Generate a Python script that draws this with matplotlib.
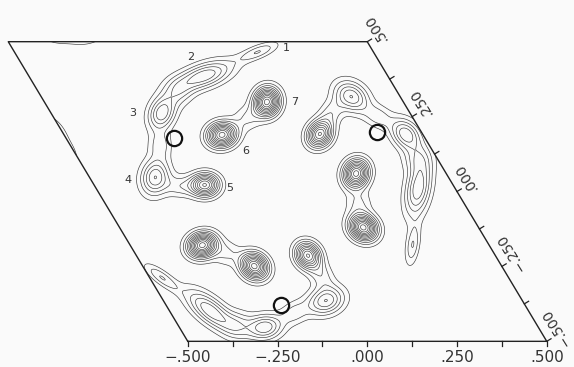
import numpy as np
import matplotlib
matplotlib.use("Agg")
import matplotlib.pyplot as plt

# peaks of one asymmetric unit, fractional cell coordinates (u along the bottom edge,
# v along the right edge), height in contour steps, widths in cell lengths,
# long-axis angle in degrees (cartesian, counter-clockwise)
peak_names = ["1", "2", "3", "4", "5", "6", "7", "", "", "", ""]
peak_u = [0.179, -0.012, -0.191, -0.317, -0.191, -0.060, 0.120, -0.111, -0.250, -0.262, 0.038]
peak_v = [0.466, 0.386, 0.262, 0.048, 0.022, 0.189, 0.299, 0.332, 0.155, 0.018, 0.245]
peak_h = [3.0, 5.9, 5.9, 5.95, 10.0, 11.5, 12.5, 2.5, 2.5, 2.5, 2.0]
peak_major = [0.040, 0.057, 0.034, 0.036, 0.027, 0.028, 0.028, 0.028, 0.028, 0.030, 0.025]
peak_minor = [0.013, 0.024, 0.025, 0.027, 0.023, 0.024, 0.024, 0.028, 0.022, 0.022, 0.025]
peak_angle = [22, 20, 70, 80, 0, 15, 80, 0, 90, 0, 0]

# label offsets (pixels) of the peak numbers
label_dx = [28, -13, -29, -27, 25, 24, 28]
label_dy = [4, 19, 0, -3, -3, -16, 0]

# bold circles (fractional), one per asymmetric unit
site_u = [-0.199]
site_v = [0.1785]

contour_levels = [1, 2, 3, 4, 5, 6, 7, 8, 9, 10, 11, 12, 13]

tick_steps = [-0.5, -0.375, -0.25, -0.125, 0.0, 0.125, 0.25, 0.375, 0.5]
label_steps = [-0.5, -0.25, 0.0, 0.25, 0.5]
label_text = ["\u2212.500", "\u2212.250", ".000", ".250", ".500"]

# 3-fold axis at the origin of the hexagonal cell
sym_ops = [((1, 0), (0, 1)), ((0, -1), (1, -1)), ((-1, 1), (-1, 0))]
c60 = 0.5
s60 = np.sqrt(3) / 2


def to_xy(u, v):
    return u - c60 * v, s60 * v


def apply_op(op, u, v):
    (a, b), (c, d) = op
    return a * u + b * v, c * u + d * v


n = 401
gu, gv = np.meshgrid(np.linspace(-0.5, 0.5, n), np.linspace(-0.5, 0.5, n))
gx, gy = to_xy(gu, gv)
rho = np.zeros_like(gu)
for k, op in enumerate(sym_ops):
    for i in range(len(peak_u)):
        cu, cv = apply_op(op, peak_u[i], peak_v[i])
        th = np.radians(peak_angle[i] + 120 * k)
        for tu in (-1, 0, 1):
            for tv in (-1, 0, 1):
                dx, dy = to_xy(gu - cu - tu, gv - cv - tv)
                a = dx * np.cos(th) + dy * np.sin(th)
                b = -dx * np.sin(th) + dy * np.cos(th)
                rho += peak_h[i] * np.exp(-0.5 * ((a / peak_major[i]) ** 2 + (b / peak_minor[i]) ** 2))

fig = plt.figure(figsize=(5.74, 3.67), dpi=100, facecolor="#fafafa")
ax = fig.add_axes([0, 0, 1, 1])
ax.set_xlim(-0.7730, 0.8259)
ax.set_ylim(-0.5072, 0.5535)
ax.axis("off")

ax.contour(gx, gy, rho, levels=contour_levels, colors="#383838", linewidths=0.45)

# cell outline
cu_ = np.array([-0.5, 0.5, 0.5, -0.5, -0.5])
cv_ = np.array([-0.5, -0.5, 0.5, 0.5, -0.5])
bx, by = to_xy(cu_, cv_)
ax.plot(bx, by, color="#222222", lw=1.0)

# bold circles
for op in sym_ops:
    su, sv = apply_op(op, np.array(site_u), np.array(site_v))
    sx, sy = to_xy(su, sv)
    ax.plot(sx, sy, "o", ms=11, mfc="none", mec="#111111", mew=1.6)

# bottom axis
for t in tick_steps:
    x0, y0 = to_xy(t, -0.5)
    ax.plot([x0, x0], [y0, y0 - 5 / 346], color="#222222", lw=0.9)
for t, s in zip(label_steps, label_text):
    x0, y0 = to_xy(t, -0.5)
    ax.annotate(s, (x0, y0), xytext=(0, -16), textcoords="offset pixels",
                ha="center", va="center", fontsize=11, color="#333333")

# right axis
nx, ny = 0.855, 0.518
for t in tick_steps:
    x0, y0 = to_xy(0.5, t)
    ax.plot([x0, x0 + 5 * nx / 359], [y0, y0 + 5 * ny / 346], color="#222222", lw=0.9)
for t, s in zip(label_steps, label_text):
    x0, y0 = to_xy(0.5, t)
    ax.annotate(s, (x0, y0), xytext=(9, 14), textcoords="offset pixels",
                ha="center", va="center", rotation=122, rotation_mode="anchor",
                fontsize=10, color="#333333")

# peak numbers
for i in range(7):
    px, py = to_xy(peak_u[i], peak_v[i])
    ax.annotate(peak_names[i], (px, py), xytext=(label_dx[i], label_dy[i]),
                textcoords="offset pixels", ha="center", va="center",
                fontsize=8, color="#333333")

fig.savefig("out.png", dpi=100, facecolor=fig.get_facecolor())
